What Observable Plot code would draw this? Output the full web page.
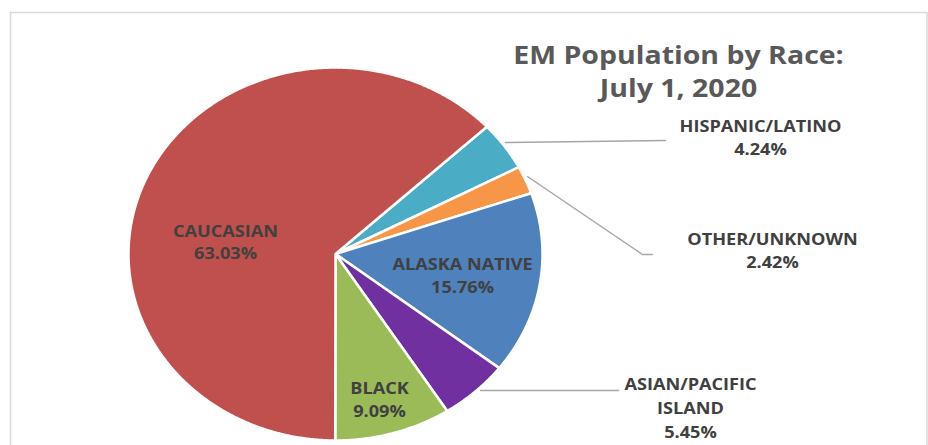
<!DOCTYPE html>
<html><head><meta charset="utf-8">
<script src="https://cdn.jsdelivr.net/npm/d3@7"></script>
<script src="https://cdn.jsdelivr.net/npm/@observablehq/plot@0.6"></script>
<style>html,body{margin:0;padding:0;overflow:hidden;background:#fff}</style>
</head><body><div id="chart"></div>
<script>
// ---- data ----
const categories = ["HISPANIC/LATINO", "OTHER/UNKNOWN", "ALASKA NATIVE", "ASIAN/PACIFIC ISLAND", "BLACK", "CAUCASIAN"];
const percents = [4.24, 2.42, 15.76, 5.45, 9.09, 63.03];
const colors = ["#4BACC6", "#F79646", "#4F81BD", "#7030A0", "#9BBB59", "#C0504D"];
const labelTexts = ["HISPANIC/LATINO", "OTHER/UNKNOWN", "ALASKA NATIVE", "ASIAN/PACIFIC\nISLAND", "BLACK", "CAUCASIAN"];
const titleLines = ["EM Population by Race:", "July 1, 2020"];

// ---- layout (pixels) ----
const W = 928, H = 445;
const CX = 335, CY = 253.5, RX = 207, RY = 186.5;
const firstSliceDeg = 47;
const labelLayout = { // center x, first baseline y, line gap
  "HISPANIC/LATINO": [760, 131, 23],
  "OTHER/UNKNOWN": [772, 244, 23],
  "ALASKA NATIVE": [462, 269, 23],
  "ASIAN/PACIFIC ISLAND": [690, 389, 24],
  "BLACK": [379, 393, 23],
  "CAUCASIAN": [225, 236, 22]
};
const leaderLayout = {
  "HISPANIC/LATINO": [[505, 142], [665, 140]],
  "OTHER/UNKNOWN": [[527, 176], [642, 254], [652, 254]],
  "ASIAN/PACIFIC ISLAND": [[480, 390], [618, 390]]
};
const titleLayout = [[678, 63], [678, 96]];
const labelStretch = 1.1, titleStretch = 1.14;
const ux = px => (px - CX) / RX;
const uy = py => (CY - py) / RY;

// ---- slices ----
const a0 = firstSliceDeg * Math.PI / 180;
const arcs = d3.pie().sort(null).startAngle(a0).endAngle(a0 + 2 * Math.PI)(percents);
const slicePts = [];
arcs.forEach((a, i) => {
  const cat = categories[i];
  slicePts.push({cat, x: 0, y: 0});
  const n = Math.max(2, Math.ceil((a.endAngle - a.startAngle) / (0.4 * Math.PI / 180)));
  for (let k = 0; k <= n; k++) {
    const t = a.startAngle + (a.endAngle - a.startAngle) * k / n;
    slicePts.push({cat, x: Math.sin(t), y: Math.cos(t)});
  }
  slicePts.push({cat, x: 0, y: 0});
});

// ---- labels ----
const labelRows = [];
categories.forEach((cat, i) => {
  const [lx, ly, gap] = labelLayout[cat];
  const lines = labelTexts[i].split("\n").concat([percents[i].toFixed(2) + "%"]);
  lines.forEach((t, k) => labelRows.push({x: ux(lx), y: uy(ly + k * gap), text: t}));
});
const leaderRows = [];
Object.entries(leaderLayout).forEach(([cat, pts]) => pts.forEach(([px, py]) => leaderRows.push({cat, x: ux(px), y: uy(py)})));
const titleRows = titleLines.map((t, k) => ({x: ux(titleLayout[k][0]), y: uy(titleLayout[k][1]), text: t}));

const font = "'Open Sans', sans-serif";
const chart = Plot.plot({
  width: W, height: H,
  margin: 0,
  x: {domain: [-1, 1], range: [CX - RX, CX + RX], axis: null},
  y: {domain: [-1, 1], range: [CY + RY, CY - RY], axis: null},
  color: {type: "ordinal", domain: categories, range: colors},
  style: {fontFamily: font, background: "#fff"},
  marks: [
    Plot.frame({stroke: "#d9d9d9", strokeWidth: 1.5, insetLeft: 10, insetTop: 12, insetRight: 1.5, insetBottom: -5}),
    Plot.line(slicePts, {x: "x", y: "y", z: "cat", fill: "cat", stroke: "#fff", strokeWidth: 2.5, strokeLinejoin: "round", curve: "linear"}),
    Plot.line(leaderRows, {x: "x", y: "y", z: "cat", stroke: "#a6a6a6", strokeWidth: 1.5, curve: "linear"}),
    Plot.text(labelRows, {x: "x", y: "y", text: "text", lineAnchor: "bottom", textAnchor: "middle", fill: "#404040", fontSize: 16.5, fontWeight: "bold", fontFamily: font, className: "lbl"}),
    Plot.text(titleRows, {x: "x", y: "y", text: "text", lineAnchor: "bottom", textAnchor: "middle", fill: "#595959", fontSize: 25, fontWeight: "bold", fontFamily: font, className: "ttl"})
  ]
});
// horizontal stretch of the text, as in the (widened) reference
d3.select(chart).selectAll(".lbl text").attr("transform", function () { return (this.getAttribute("transform") || "") + ` scale(${labelStretch},1)`; });
d3.select(chart).selectAll(".ttl text").attr("transform", function () { return (this.getAttribute("transform") || "") + ` scale(${titleStretch},1)`; });
document.getElementById("chart").appendChild(chart);
</script></body></html>
